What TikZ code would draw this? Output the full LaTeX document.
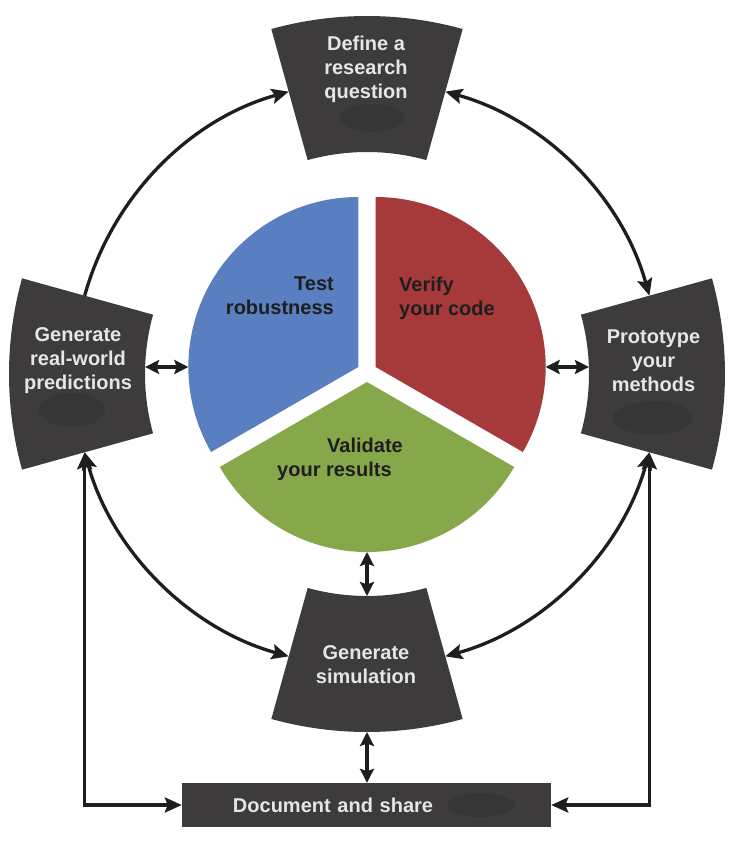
\documentclass[tikz,border=0pt]{standalone}
\usepackage{fontspec}
\setmainfont{Liberation Sans}
\usetikzlibrary{arrows.meta}
\definecolor{boxgray}{HTML}{3D3B3B}
\definecolor{blobgray}{HTML}{373636}
\definecolor{boxtext}{HTML}{E6E6E6}
\definecolor{pieblue}{HTML}{5A7FC0}
\definecolor{piered}{HTML}{A6393A}
\definecolor{piegreen}{HTML}{87A84A}
\definecolor{inkdark}{HTML}{1E1E1E}
\newcommand\ringsector[1]{%
  \fill[boxgray] ({#1-15.5}:358) arc[start angle={#1-15.5}, end angle={#1+15.5}, radius=358pt]
    -- ({#1+15.5}:222) arc[start angle={#1+15.5}, end angle={#1-15.5}, radius=222pt] -- cycle;}
\begin{document}
\begin{tikzpicture}[x=1pt,y=1pt,
  >={Stealth[length=17pt,width=15pt,inset=3pt]},
  txtfont/.style={font=\fontsize{20}{24}\selectfont\bfseries},
  boxtxt/.style={txtfont, text=boxtext, align=center, inner sep=0pt},
  pietxt/.style={txtfont, text=inkdark, inner sep=0pt},
  conn/.style={line width=3.3pt, draw=inkdark},
  shortconn/.style={conn, {Stealth[length=14pt,width=14pt,inset=2.5pt]}-{Stealth[length=14pt,width=14pt,inset=2.5pt]}},
  docbox/.style={txtfont, fill=boxgray, text=boxtext, minimum height=44pt,
    text width=267pt, inner xsep=51pt, inner ysep=0pt, align=left},
  blob/.style={fill=blobgray}
]
\useasboundingbox[fill=white] (-367,-468) rectangle (363,374);

% ring boxes
\ringsector{90}
\ringsector{180}
\ringsector{0}
\ringsector{270}
\fill[blob] (5,256) ellipse[x radius=32, y radius=14];
\fill[blob] (-295,-36) ellipse[x radius=33, y radius=17];
\fill[blob] (286,-44) ellipse[x radius=40, y radius=17];

% pie
\begin{scope}[shift={(0,2)}]
  \fill[pieblue, shift={(150:10)}] (0,0) -- (90:170) arc[start angle=90, end angle=210, radius=170pt] -- cycle;
  \fill[piered, shift={(30:10)}] (0,0) -- (-30:170) arc[start angle=-30, end angle=90, radius=170pt] -- cycle;
  \fill[piegreen, shift={(270:10)}] (0,0) -- (210:170) arc[start angle=210, end angle=330, radius=170pt] -- cycle;
\end{scope}

% texts
\node[boxtxt] (define) at (-1,305) {Define a\\research\\question};
\node[boxtxt] (predict) at (-289,13) {Generate\\real-world\\predictions};
\node[boxtxt] (proto) at (286.5,13) {Prototype\\your\\methods};
\node[boxtxt] (simul) at (-1,-291) {Generate\\simulation};
\node[pietxt, anchor=east, align=right] (robust) at (-33,78.3) {Test\\robustness};
\node[pietxt, anchor=west, align=left] (verify) at (32,75.2) {Verify\\your code};
\node[pietxt, anchor=west, align=left] (validate) at (-90,-85.8) {\hspace*{50pt}Validate\\your results};
\node[docbox] (doc) at (-0.5,-431) {Document and share};
\fill[blob] (114,-431) ellipse[x radius=34, y radius=12];

% connector points
\coordinate (lbT) at (164.5:293);
\coordinate (tbL) at (105.5:293);
\coordinate (tbR) at (74.5:293);
\coordinate (rbT) at (15.5:293);
\coordinate (rbB) at (-15.5:293);
\coordinate (bbR) at (-74.5:293);
\coordinate (bbL) at (-105.5:293);
\coordinate (lbB) at (195.5:293);
\coordinate (lbE) at (-221.9,7);
\coordinate (pieW) at (-178.7,7);
\coordinate (pieE) at (178.7,7);
\coordinate (rbW) at (221.9,7);
\coordinate (pieS) at (0,-178);
\coordinate (bbT) at (0,-222);
\coordinate (bbBot) at (0,-358);

% connectors
\draw[conn,->] (lbT) to[bend left=29.5, looseness=0.91] (tbL);
\draw[conn,<->] (tbR) to[bend left=29.5, looseness=0.91] (rbT);
\draw[conn,<->] (rbB) to[bend left=29.5, looseness=0.91] (bbR);
\draw[conn,<->] (bbL) to[bend left=29.5, looseness=0.91] (lbB);
\draw[shortconn] (lbE) -- (pieW);
\draw[shortconn] (pieE) -- (rbW);
\draw[shortconn] (pieS) -- (bbT);
\draw[shortconn] (bbBot) -- (bbBot |- doc.north);
\draw[conn,<->] (doc.west) -| (lbB);
\draw[conn,<->] (doc.east) -| (rbB);
\end{tikzpicture}
\end{document}
